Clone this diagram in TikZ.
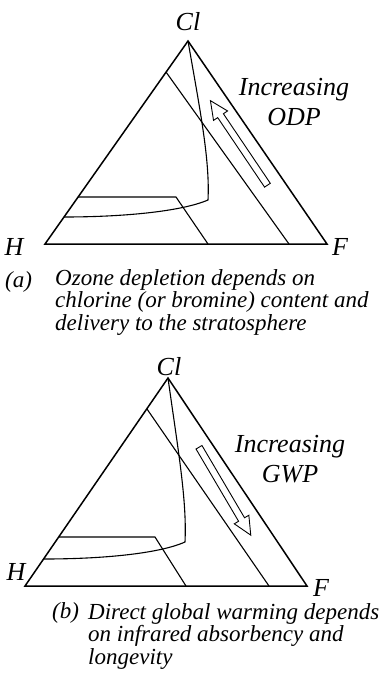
\documentclass[tikz,border=0pt]{standalone}
\usepackage{fontspec}
\setmainfont{Liberation Serif}
\usetikzlibrary{shapes.arrows}

\begin{document}
\begin{tikzpicture}[x=1pt, y=-1pt,
       side/.style = {line width=1.5pt, line join=miter},
      inner/.style = {line width=1.1pt},
     corner/.style = {font=\fontsize{26}{30}\selectfont\itshape,
                      inner sep=0pt, anchor=base},
      trend/.style = {single arrow, draw, line width=0.9pt, inner sep=3pt,
                      minimum height=102pt, single arrow head extend=5pt,
                      single arrow tip angle=50},
    caption/.style = {font=\fontsize{23}{22.5}\selectfont\itshape,
                      inner sep=0pt, anchor=base west, align=left}
                        ]
    \useasboundingbox (0,0) rectangle (382,683);

    % (a) ozone depletion
    \coordinate (cla) at (188,41);
    \coordinate (ha) at (45,244);
    \coordinate (fa) at (327,244);
    \coordinate (odpl) at (166,72);
    \coordinate (odpb) at (289,244);
    \coordinate (trla) at (78,197);
    \coordinate (trra) at (176,197);
    \coordinate (trba) at (208,244);
    \coordinate (kinka) at (208,200);
    \coordinate (enda) at (64,217);

    \draw[side] (cla) -- (ha) -- (fa) -- cycle;
    \draw[inner] (odpl) -- (odpb);
    \draw[inner] (trla) -- (trra) -- (trba);
    \draw[inner] (cla) .. controls (200,110) and (210,160) .. (kinka)
                       .. controls (180,212) and (120,217) .. (enda);

    \node[corner] (cllaba) at (188,30) {Cl};
    \node[corner] (hlaba) at (14,255) {H};
    \node[corner] (flaba) at (340,255) {F};
    \node[trend, rotate=124] (odp) at (241,146) {};
    \node[corner, align=center] (odptxt) at (294,125) {Increasing\\ODP};

    \node[caption] (capa) at (5,287) {(a)};
    \node[caption] (texta) at (55,330) {Ozone depletion depends on\\
        chlorine (or bromine) content and\\delivery to the stratosphere};

    % (b) global warming
    \coordinate (clb) at (168,378);
    \coordinate (hb) at (25,586);
    \coordinate (fb) at (307,586);
    \coordinate (gwpl) at (147,409);
    \coordinate (gwpb) at (269,586);
    \coordinate (trlb) at (59,537);
    \coordinate (trrb) at (155,537);
    \coordinate (trbb) at (186,586);
    \coordinate (kinkb) at (185,542);
    \coordinate (endb) at (44,559);

    \draw[side] (clb) -- (hb) -- (fb) -- cycle;
    \draw[inner] (gwpl) -- (gwpb);
    \draw[inner] (trlb) -- (trrb) -- (trbb);
    \draw[inner] (clb) .. controls (178,450) and (187,500) .. (kinkb)
                       .. controls (158,554) and (100,559) .. (endb);

    \node[corner] (cllabb) at (169,375) {Cl};
    \node[corner] (hlabb) at (16,580) {H};
    \node[corner] (flabb) at (321,596) {F};
    \node[trend, rotate=-59.5] (gwp) at (223,488) {};
    \node[corner, align=center] (gwptxt) at (290,482) {Increasing\\GWP};

    \node[caption] (capb) at (52,618) {(b)};
    \node[caption] (textb) at (88,664) {Direct global warming depends\\
        on infrared absorbency and\\longevity};
\end{tikzpicture}
\end{document}
